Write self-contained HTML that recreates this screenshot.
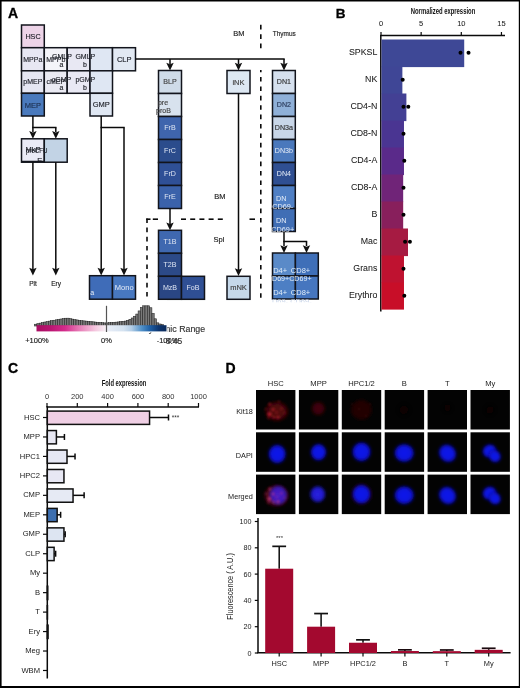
<!DOCTYPE html>
<html><head><meta charset="utf-8"><style>
html,body{margin:0;padding:0;background:#fff;overflow:hidden;width:520px;height:688px;}
svg{display:block;font-family:"Liberation Sans", sans-serif;will-change:transform;}
</style></head><body>
<svg width="520" height="688" viewBox="0 0 520 688">
<defs>
<linearGradient id="cbar" x1="0" x2="1" y1="0" y2="0">
<stop offset="0" stop-color="#a80d62"/>
<stop offset="0.1" stop-color="#b81470"/>
<stop offset="0.22" stop-color="#d42c8c"/>
<stop offset="0.33" stop-color="#e67cb6"/>
<stop offset="0.45" stop-color="#f4c6de"/>
<stop offset="0.53" stop-color="#f6eef4"/>
<stop offset="0.56" stop-color="#e6ecf6"/>
<stop offset="0.67" stop-color="#d4e2f0"/>
<stop offset="0.73" stop-color="#b4cee6"/>
<stop offset="0.81" stop-color="#5090c8"/>
<stop offset="0.87" stop-color="#2062a8"/>
<stop offset="0.94" stop-color="#0e3670"/>
<stop offset="1" stop-color="#0a2a5a"/>
</linearGradient>
<radialGradient id="red1"><stop offset="0" stop-color="#58080c"/><stop offset="0.6" stop-color="#4a070a"/><stop offset="0.85" stop-color="#280405"/><stop offset="1" stop-color="#100202" stop-opacity="0"/></radialGradient>
<radialGradient id="red1m"><stop offset="0" stop-color="#700e24"/><stop offset="0.7" stop-color="#5a0a1c"/><stop offset="1" stop-color="#100202" stop-opacity="0"/></radialGradient>
<radialGradient id="violet"><stop offset="0" stop-color="#4a22e0"/><stop offset="0.6" stop-color="#3a1cd8"/><stop offset="0.85" stop-color="#2a12a0"/><stop offset="1" stop-color="#100840" stop-opacity="0"/></radialGradient>
<radialGradient id="blue2"><stop offset="0" stop-color="#2a22e0"/><stop offset="0.6" stop-color="#221ad0"/><stop offset="0.85" stop-color="#14109a"/><stop offset="1" stop-color="#050540" stop-opacity="0"/></radialGradient>
<filter id="bl2" x="-100%" y="-100%" width="300%" height="300%"><feGaussianBlur stdDeviation="1.0"/></filter>
<radialGradient id="red2"><stop offset="0" stop-color="#46060a"/><stop offset="0.6" stop-color="#380508"/><stop offset="1" stop-color="#100202" stop-opacity="0"/></radialGradient>
<radialGradient id="red3"><stop offset="0" stop-color="#240606"/><stop offset="0.7" stop-color="#200505"/><stop offset="1" stop-color="#080202" stop-opacity="0"/></radialGradient>
<radialGradient id="red4"><stop offset="0" stop-color="#0e0303"/><stop offset="1" stop-color="#030303" stop-opacity="0"/></radialGradient>
<radialGradient id="blue"><stop offset="0" stop-color="#1216ec"/><stop offset="0.6" stop-color="#0e12de"/><stop offset="0.82" stop-color="#080ca8"/><stop offset="1" stop-color="#040440" stop-opacity="0"/></radialGradient>
<filter id="bl" x="-50%" y="-50%" width="200%" height="200%"><feGaussianBlur stdDeviation="1.5"/></filter>
</defs>
<rect x="0" y="0" width="520" height="688" fill="#fff"/>

<text x="8.00" y="17.60" font-size="14" fill="#000" text-anchor="start" font-weight="bold" stroke="#000" stroke-width="0.3">A</text>
<rect x="21.50" y="25.00" width="22.80" height="22.70" fill="#edd4e8" stroke="#12141c" stroke-width="1.5" />
<text x="33.00" y="38.80" font-size="7.2" fill="#1e2028" text-anchor="middle" font-weight="normal" stroke="#1e2028" stroke-width="0.15" >HSC</text>
<rect x="21.50" y="47.70" width="22.80" height="23.10" fill="#e7e7f3" stroke="#12141c" stroke-width="1.5" />
<rect x="44.30" y="47.70" width="22.90" height="23.10" fill="#f4f4f9" stroke="#12141c" stroke-width="1.5" />
<rect x="67.20" y="47.70" width="22.80" height="23.10" fill="#e8e8f3" stroke="#12141c" stroke-width="1.5" />
<rect x="90.00" y="47.70" width="22.50" height="23.10" fill="#dfe7f3" stroke="#12141c" stroke-width="1.5" />
<rect x="112.50" y="47.70" width="23.00" height="23.10" fill="#e2e9f3" stroke="#12141c" stroke-width="1.5" />
<rect x="21.50" y="70.80" width="22.80" height="22.50" fill="#e5e6f2" stroke="#12141c" stroke-width="1.5" />
<rect x="44.30" y="70.80" width="22.90" height="22.50" fill="#eaeaf3" stroke="#12141c" stroke-width="1.5" />
<rect x="67.20" y="70.80" width="22.80" height="22.50" fill="#e9e9f4" stroke="#12141c" stroke-width="1.5" />
<rect x="90.00" y="70.80" width="22.50" height="22.50" fill="#dfe7f3" stroke="#12141c" stroke-width="1.5" />
<rect x="21.50" y="93.30" width="22.80" height="22.70" fill="#4a7abd" stroke="#12141c" stroke-width="1.5" />
<rect x="90.00" y="93.30" width="22.50" height="22.70" fill="#dfe7f3" stroke="#12141c" stroke-width="1.5" />
<text x="32.80" y="61.50" font-size="7" fill="#1e2028" text-anchor="middle" font-weight="normal" stroke="#1e2028" stroke-width="0.15" >MPPa</text>
<text x="55.80" y="61.50" font-size="7" fill="#1e2028" text-anchor="middle" font-weight="normal" stroke="#1e2028" stroke-width="0.15" >MPPb</text>
<text x="62.00" y="58.80" font-size="7" fill="#1e2028" text-anchor="middle" font-weight="normal" stroke="#1e2028" stroke-width="0.15" >GMLP</text>
<text x="61.50" y="67.00" font-size="7" fill="#1e2028" text-anchor="middle" font-weight="normal" stroke="#1e2028" stroke-width="0.15" >a</text>
<text x="85.30" y="58.80" font-size="7" fill="#1e2028" text-anchor="middle" font-weight="normal" stroke="#1e2028" stroke-width="0.15" >GMLP</text>
<text x="84.90" y="67.00" font-size="7" fill="#1e2028" text-anchor="middle" font-weight="normal" stroke="#1e2028" stroke-width="0.15" >b</text>
<text x="124.20" y="61.50" font-size="7.5" fill="#1e2028" text-anchor="middle" font-weight="normal" stroke="#1e2028" stroke-width="0.15" >CLP</text>
<text x="32.80" y="83.80" font-size="7" fill="#1e2028" text-anchor="middle" font-weight="normal" stroke="#1e2028" stroke-width="0.15" >pMEP</text>
<text x="55.80" y="83.80" font-size="7" fill="#1e2028" text-anchor="middle" font-weight="normal" stroke="#1e2028" stroke-width="0.15" >cMEP</text>
<text x="61.50" y="82.10" font-size="7" fill="#1e2028" text-anchor="middle" font-weight="normal" stroke="#1e2028" stroke-width="0.15" >cGMP</text>
<text x="61.50" y="90.30" font-size="7" fill="#1e2028" text-anchor="middle" font-weight="normal" stroke="#1e2028" stroke-width="0.15" >a</text>
<text x="85.30" y="82.10" font-size="7" fill="#1e2028" text-anchor="middle" font-weight="normal" stroke="#1e2028" stroke-width="0.15" >pGMP</text>
<text x="84.90" y="90.30" font-size="7" fill="#1e2028" text-anchor="middle" font-weight="normal" stroke="#1e2028" stroke-width="0.15" >b</text>
<text x="32.80" y="107.50" font-size="7.5" fill="#1e3050" text-anchor="middle" font-weight="normal" stroke="#1e3050" stroke-width="0.15" >MEP</text>
<text x="101.30" y="107.00" font-size="7.5" fill="#1e2028" text-anchor="middle" font-weight="normal" stroke="#1e2028" stroke-width="0.15" >GMP</text>
<line x1="32.90" y1="116.00" x2="32.90" y2="132.00" stroke="#0a0a0a" stroke-width="1.5" />
<line x1="32.20" y1="127.50" x2="56.50" y2="127.50" stroke="#0a0a0a" stroke-width="1.5" />
<line x1="55.80" y1="127.50" x2="55.80" y2="132.00" stroke="#0a0a0a" stroke-width="1.5" />
<path d="M29.20,131.00 L32.90,132.50 L36.60,131.00 L32.90,138.80 Z" fill="#111"/>
<path d="M52.10,131.00 L55.80,132.50 L59.50,131.00 L55.80,138.80 Z" fill="#111"/>
<rect x="21.50" y="138.80" width="22.80" height="23.40" fill="#eaeaf5" stroke="#12141c" stroke-width="1.5" />
<rect x="44.30" y="138.80" width="22.90" height="23.40" fill="#c2d3e5" stroke="#12141c" stroke-width="1.5" />
<text x="33.00" y="151.80" font-size="7.5" fill="#1e2028" text-anchor="middle" font-weight="normal" stroke="#1e2028" stroke-width="0.15" >MkP</text>
<text x="26.00" y="153.20" font-size="7.5" fill="#1e2028" text-anchor="start" font-weight="normal" stroke="#1e2028" stroke-width="0.15" textLength="21.5" lengthAdjust="spacingAndGlyphs" >preCFU</text>
<text x="38.60" y="162.60" font-size="7.5" fill="#1e2028" text-anchor="middle" font-weight="normal" stroke="#1e2028" stroke-width="0.15" >-E</text>
<line x1="21.50" y1="161.50" x2="44.30" y2="161.50" stroke="#12141c" stroke-width="1.5" />
<line x1="32.90" y1="162.20" x2="32.90" y2="270.00" stroke="#0a0a0a" stroke-width="1.5" />
<path d="M29.20,267.70 L32.90,269.20 L36.60,267.70 L32.90,275.50 Z" fill="#111"/>
<line x1="55.80" y1="162.20" x2="55.80" y2="270.00" stroke="#0a0a0a" stroke-width="1.5" />
<path d="M52.10,267.70 L55.80,269.20 L59.50,267.70 L55.80,275.50 Z" fill="#111"/>
<text x="33.00" y="285.80" font-size="6.5" fill="#222" text-anchor="middle" font-weight="normal" stroke="#222" stroke-width="0.15" >Plt</text>
<text x="56.00" y="285.80" font-size="6.5" fill="#222" text-anchor="middle" font-weight="normal" stroke="#222" stroke-width="0.15" >Ery</text>
<line x1="101.20" y1="116.00" x2="101.20" y2="270.00" stroke="#0a0a0a" stroke-width="1.5" />
<path d="M97.50,267.70 L101.20,269.20 L104.90,267.70 L101.20,275.50 Z" fill="#111"/>
<line x1="100.50" y1="127.50" x2="124.70" y2="127.50" stroke="#0a0a0a" stroke-width="1.5" />
<line x1="124.00" y1="127.50" x2="124.00" y2="270.00" stroke="#0a0a0a" stroke-width="1.5" />
<path d="M120.30,267.70 L124.00,269.20 L127.70,267.70 L124.00,275.50 Z" fill="#111"/>
<rect x="89.50" y="275.70" width="23.00" height="23.50" fill="#3f6cb8" stroke="#12141c" stroke-width="1.5" />
<rect x="112.50" y="275.70" width="23.00" height="23.50" fill="#4878c0" stroke="#12141c" stroke-width="1.5" />
<text x="124.20" y="290.00" font-size="7.5" fill="#e8eef8" text-anchor="middle" font-weight="normal" >Mono</text>
<text x="90.20" y="295.30" font-size="7" fill="#e8eef8" text-anchor="start" font-weight="normal" >a</text>
<line x1="135.50" y1="59.00" x2="284.70" y2="59.00" stroke="#0a0a0a" stroke-width="1.5" />
<line x1="170.00" y1="59.00" x2="170.00" y2="64.00" stroke="#0a0a0a" stroke-width="1.5" />
<path d="M166.30,62.70 L170.00,64.20 L173.70,62.70 L170.00,70.50 Z" fill="#111"/>
<line x1="238.50" y1="59.00" x2="238.50" y2="64.00" stroke="#0a0a0a" stroke-width="1.5" />
<path d="M234.80,62.70 L238.50,64.20 L242.20,62.70 L238.50,70.50 Z" fill="#111"/>
<line x1="284.00" y1="59.00" x2="284.00" y2="64.00" stroke="#0a0a0a" stroke-width="1.5" />
<path d="M280.30,62.70 L284.00,64.20 L287.70,62.70 L284.00,70.50 Z" fill="#111"/>
<rect x="158.50" y="70.50" width="23.00" height="23.00" fill="#cfdbe8" stroke="#12141c" stroke-width="1.5" />
<text x="170.00" y="83.70" font-size="7.1" fill="#444" text-anchor="middle" font-weight="normal" stroke="#444" stroke-width="0.15" >BLP</text>
<rect x="158.50" y="93.50" width="23.00" height="23.00" fill="#d8e2ee" stroke="#12141c" stroke-width="1.5" />
<rect x="158.50" y="116.50" width="23.00" height="23.00" fill="#3f65ad" stroke="#12141c" stroke-width="1.5" />
<text x="170.00" y="129.70" font-size="7.1" fill="#dde4f2" text-anchor="middle" font-weight="normal" >FrB</text>
<rect x="158.50" y="139.50" width="23.00" height="23.00" fill="#2b4c8c" stroke="#12141c" stroke-width="1.5" />
<text x="170.00" y="152.70" font-size="7.1" fill="#dde4f2" text-anchor="middle" font-weight="normal" >FrC</text>
<rect x="158.50" y="162.50" width="23.00" height="23.00" fill="#2f5096" stroke="#12141c" stroke-width="1.5" />
<text x="170.00" y="175.70" font-size="7.1" fill="#dde4f2" text-anchor="middle" font-weight="normal" >FrD</text>
<rect x="158.50" y="185.50" width="23.00" height="23.00" fill="#3b62aa" stroke="#12141c" stroke-width="1.5" />
<text x="170.00" y="198.70" font-size="7.1" fill="#dde4f2" text-anchor="middle" font-weight="normal" >FrE</text>
<text x="163.00" y="104.50" font-size="7" fill="#444" text-anchor="middle" font-weight="normal" stroke="#444" stroke-width="0.15" >pre</text>
<text x="163.50" y="112.50" font-size="7" fill="#444" text-anchor="middle" font-weight="normal" stroke="#444" stroke-width="0.15" >proB</text>
<line x1="170.00" y1="208.50" x2="170.00" y2="224.00" stroke="#0a0a0a" stroke-width="1.5" />
<path d="M166.30,222.50 L170.00,224.00 L173.70,222.50 L170.00,230.30 Z" fill="#111"/>
<rect x="158.50" y="230.30" width="23.00" height="23.00" fill="#3f68b0" stroke="#12141c" stroke-width="1.5" />
<text x="170.00" y="244.30" font-size="7.1" fill="#dde4f2" text-anchor="middle" font-weight="normal" >T1B</text>
<rect x="158.50" y="253.30" width="23.00" height="23.00" fill="#2c4a88" stroke="#12141c" stroke-width="1.5" />
<text x="170.00" y="267.30" font-size="7.1" fill="#dde4f2" text-anchor="middle" font-weight="normal" >T2B</text>
<rect x="158.50" y="276.30" width="23.00" height="23.00" fill="#2a4684" stroke="#12141c" stroke-width="1.5" />
<text x="170.00" y="290.30" font-size="7.1" fill="#dde4f2" text-anchor="middle" font-weight="normal" >MzB</text>
<rect x="181.50" y="276.30" width="23.00" height="23.00" fill="#2f4f94" stroke="#12141c" stroke-width="1.5" />
<text x="193.00" y="290.20" font-size="7.1" fill="#dde4f2" text-anchor="middle" font-weight="normal" >FoB</text>
<rect x="227.00" y="70.50" width="23.00" height="23.00" fill="#dde8f3" stroke="#12141c" stroke-width="1.5" />
<text x="238.50" y="84.50" font-size="7.5" fill="#444" text-anchor="middle" font-weight="normal" stroke="#444" stroke-width="0.15" >iNK</text>
<line x1="238.50" y1="93.50" x2="238.50" y2="270.00" stroke="#0a0a0a" stroke-width="1.5" />
<path d="M234.80,268.20 L238.50,269.70 L242.20,268.20 L238.50,276.00 Z" fill="#111"/>
<rect x="227.00" y="276.30" width="23.00" height="23.00" fill="#c5d8ea" stroke="#12141c" stroke-width="1.5" />
<text x="238.50" y="290.20" font-size="7.5" fill="#444" text-anchor="middle" font-weight="normal" stroke="#444" stroke-width="0.15" >mNK</text>
<rect x="272.50" y="70.50" width="22.80" height="23.00" fill="#d5e0ee" stroke="#12141c" stroke-width="1.5" />
<text x="283.90" y="83.80" font-size="7.1" fill="#333" text-anchor="middle" font-weight="normal" stroke="#333" stroke-width="0.15" >DN1</text>
<rect x="272.50" y="93.50" width="22.80" height="23.00" fill="#8fb0d8" stroke="#12141c" stroke-width="1.5" />
<text x="283.90" y="106.80" font-size="7.1" fill="#2a3a5a" text-anchor="middle" font-weight="normal" stroke="#2a3a5a" stroke-width="0.15" >DN2</text>
<rect x="272.50" y="116.50" width="22.80" height="23.00" fill="#c8d6e8" stroke="#12141c" stroke-width="1.5" />
<text x="283.90" y="129.80" font-size="7.1" fill="#333" text-anchor="middle" font-weight="normal" stroke="#333" stroke-width="0.15" >DN3a</text>
<rect x="272.50" y="139.50" width="22.80" height="23.00" fill="#4a78bc" stroke="#12141c" stroke-width="1.5" />
<text x="283.90" y="152.80" font-size="7.1" fill="#e8eef8" text-anchor="middle" font-weight="normal" >DN3b</text>
<rect x="272.50" y="162.50" width="22.80" height="23.00" fill="#2f4f92" stroke="#12141c" stroke-width="1.5" />
<text x="283.90" y="175.80" font-size="7.1" fill="#e8eef8" text-anchor="middle" font-weight="normal" >DN4</text>
<rect x="272.50" y="185.50" width="22.80" height="23.00" fill="#4f7fc4" stroke="#12141c" stroke-width="1.5" />
<rect x="272.50" y="208.50" width="22.80" height="23.00" fill="#406eb5" stroke="#12141c" stroke-width="1.5" />
<text x="281.30" y="200.50" font-size="7.2" fill="#e6eef9" text-anchor="middle" font-weight="normal" >DN</text>
<text x="282.70" y="209.40" font-size="7.3" fill="#e6eef9" text-anchor="middle" font-weight="normal" >CD69-</text>
<text x="281.30" y="223.00" font-size="7.2" fill="#e6eef9" text-anchor="middle" font-weight="normal" >DN</text>
<text x="282.70" y="232.00" font-size="7.3" fill="#e6eef9" text-anchor="middle" font-weight="normal" >CD69+</text>
<line x1="284.00" y1="231.50" x2="284.00" y2="246.00" stroke="#0a0a0a" stroke-width="1.5" />
<line x1="283.30" y1="241.50" x2="307.20" y2="241.50" stroke="#0a0a0a" stroke-width="1.5" />
<line x1="306.50" y1="241.50" x2="306.50" y2="246.00" stroke="#0a0a0a" stroke-width="1.5" />
<path d="M280.30,245.20 L284.00,246.70 L287.70,245.20 L284.00,253.00 Z" fill="#111"/>
<path d="M302.80,245.20 L306.50,246.70 L310.20,245.20 L306.50,253.00 Z" fill="#111"/>
<rect x="272.50" y="253.00" width="22.90" height="23.00" fill="#5a8ac8" stroke="#12141c" stroke-width="1.5" />
<rect x="295.40" y="253.00" width="22.90" height="23.00" fill="#3f6fb8" stroke="#12141c" stroke-width="1.5" />
<rect x="272.50" y="276.00" width="22.90" height="23.00" fill="#4d7fc4" stroke="#12141c" stroke-width="1.5" />
<rect x="295.40" y="276.00" width="22.90" height="23.00" fill="#4676bf" stroke="#12141c" stroke-width="1.5" />
<text x="273.20" y="273.00" font-size="7.5" fill="#e2eef9" text-anchor="start" font-weight="normal" >D4+</text>
<text x="290.80" y="273.00" font-size="7.5" fill="#e2eef9" text-anchor="start" font-weight="normal" >CD8+</text>
<text x="273.20" y="295.00" font-size="7.5" fill="#e2eef9" text-anchor="start" font-weight="normal" >D4+</text>
<text x="290.80" y="295.00" font-size="7.5" fill="#e2eef9" text-anchor="start" font-weight="normal" >CD8+</text>
<text x="272.00" y="281.30" font-size="7.5" fill="#e2eef9" text-anchor="start" font-weight="normal" textLength="39.6" lengthAdjust="spacingAndGlyphs" >D69+CD69+</text>
<clipPath id="c4"><rect x="260" y="299" width="80" height="3.2"/></clipPath>
<g clip-path="url(#c4)">
<text x="272.00" y="303.60" font-size="7.5" fill="#c8d4e8" text-anchor="start" font-weight="normal" textLength="39.6" lengthAdjust="spacingAndGlyphs" >D69- CD69-</text>
</g>
<text x="238.80" y="35.80" font-size="7.5" fill="#222" text-anchor="middle" font-weight="normal" stroke="#222" stroke-width="0.15" >BM</text>
<text x="284.30" y="35.80" font-size="7.5" fill="#222" text-anchor="middle" font-weight="normal" stroke="#222" stroke-width="0.15" textLength="23" lengthAdjust="spacingAndGlyphs" >Thymus</text>
<text x="219.80" y="199.20" font-size="7.5" fill="#222" text-anchor="middle" font-weight="normal" stroke="#222" stroke-width="0.15" >BM</text>
<text x="219.00" y="242.00" font-size="7.5" fill="#222" text-anchor="middle" font-weight="normal" stroke="#222" stroke-width="0.15" >Spl</text>
<line x1="260.80" y1="24.80" x2="260.80" y2="49.00" stroke="#0a0a0a" stroke-width="1.6" stroke-dasharray="4.7,4.7"/>
<line x1="260.80" y1="70.00" x2="260.80" y2="301.00" stroke="#0a0a0a" stroke-width="1.6" stroke-dasharray="4.6,4.8" stroke-dashoffset="2.4"/>
<line x1="146.20" y1="219.20" x2="150.50" y2="219.20" stroke="#0a0a0a" stroke-width="1.6" />
<line x1="152.80" y1="219.20" x2="158.00" y2="219.20" stroke="#0a0a0a" stroke-width="1.6" />
<line x1="181.00" y1="219.20" x2="186.00" y2="219.20" stroke="#0a0a0a" stroke-width="1.6" />
<line x1="190.20" y1="219.20" x2="195.20" y2="219.20" stroke="#0a0a0a" stroke-width="1.6" />
<line x1="199.40" y1="219.20" x2="204.40" y2="219.20" stroke="#0a0a0a" stroke-width="1.6" />
<line x1="208.60" y1="219.20" x2="213.60" y2="219.20" stroke="#0a0a0a" stroke-width="1.6" />
<line x1="217.80" y1="219.20" x2="222.80" y2="219.20" stroke="#0a0a0a" stroke-width="1.6" />
<line x1="249.50" y1="219.20" x2="255.00" y2="219.20" stroke="#0a0a0a" stroke-width="1.6" />
<line x1="147.00" y1="218.40" x2="147.00" y2="301.00" stroke="#0a0a0a" stroke-width="1.6" stroke-dasharray="4.6,4.6"/>
<text x="142.50" y="332.40" font-size="8.8" fill="#333" text-anchor="start" font-weight="normal" stroke="#333" stroke-width="0.15" >Dynamic Range</text>
<rect x="30.00" y="300.50" width="137.00" height="31.90" fill="#fff" />
<rect x="34.60" y="324.22" width="2.3" height="1.78" fill="#7a7a7a" stroke="#222" stroke-width="0.55"/>
<rect x="36.90" y="323.67" width="2.3" height="2.33" fill="#7a7a7a" stroke="#222" stroke-width="0.55"/>
<rect x="39.20" y="323.12" width="2.3" height="2.88" fill="#7a7a7a" stroke="#222" stroke-width="0.55"/>
<rect x="41.50" y="322.56" width="2.3" height="3.44" fill="#7a7a7a" stroke="#222" stroke-width="0.55"/>
<rect x="43.80" y="322.01" width="2.3" height="3.99" fill="#7a7a7a" stroke="#222" stroke-width="0.55"/>
<rect x="46.10" y="321.57" width="2.3" height="4.43" fill="#7a7a7a" stroke="#222" stroke-width="0.55"/>
<rect x="48.40" y="321.12" width="2.3" height="4.88" fill="#7a7a7a" stroke="#222" stroke-width="0.55"/>
<rect x="50.70" y="320.68" width="2.3" height="5.32" fill="#7a7a7a" stroke="#222" stroke-width="0.55"/>
<rect x="53.00" y="320.24" width="2.3" height="5.76" fill="#7a7a7a" stroke="#222" stroke-width="0.55"/>
<rect x="55.30" y="319.80" width="2.3" height="6.20" fill="#7a7a7a" stroke="#222" stroke-width="0.55"/>
<rect x="57.60" y="319.38" width="2.3" height="6.62" fill="#7a7a7a" stroke="#222" stroke-width="0.55"/>
<rect x="59.90" y="318.99" width="2.3" height="7.01" fill="#7a7a7a" stroke="#222" stroke-width="0.55"/>
<rect x="62.20" y="318.61" width="2.3" height="7.39" fill="#7a7a7a" stroke="#222" stroke-width="0.55"/>
<rect x="64.50" y="318.23" width="2.3" height="7.77" fill="#7a7a7a" stroke="#222" stroke-width="0.55"/>
<rect x="66.80" y="318.18" width="2.3" height="7.82" fill="#7a7a7a" stroke="#222" stroke-width="0.55"/>
<rect x="69.10" y="318.62" width="2.3" height="7.38" fill="#7a7a7a" stroke="#222" stroke-width="0.55"/>
<rect x="71.40" y="319.07" width="2.3" height="6.93" fill="#7a7a7a" stroke="#222" stroke-width="0.55"/>
<rect x="73.70" y="319.51" width="2.3" height="6.49" fill="#7a7a7a" stroke="#222" stroke-width="0.55"/>
<rect x="76.00" y="319.95" width="2.3" height="6.05" fill="#7a7a7a" stroke="#222" stroke-width="0.55"/>
<rect x="78.30" y="320.39" width="2.3" height="5.61" fill="#7a7a7a" stroke="#222" stroke-width="0.55"/>
<rect x="80.60" y="320.68" width="2.3" height="5.32" fill="#7a7a7a" stroke="#222" stroke-width="0.55"/>
<rect x="82.90" y="320.90" width="2.3" height="5.10" fill="#7a7a7a" stroke="#222" stroke-width="0.55"/>
<rect x="85.20" y="321.13" width="2.3" height="4.87" fill="#7a7a7a" stroke="#222" stroke-width="0.55"/>
<rect x="87.50" y="321.37" width="2.3" height="4.63" fill="#7a7a7a" stroke="#222" stroke-width="0.55"/>
<rect x="89.80" y="321.59" width="2.3" height="4.41" fill="#7a7a7a" stroke="#222" stroke-width="0.55"/>
<rect x="92.10" y="321.82" width="2.3" height="4.18" fill="#7a7a7a" stroke="#222" stroke-width="0.55"/>
<rect x="94.40" y="322.05" width="2.3" height="3.95" fill="#7a7a7a" stroke="#222" stroke-width="0.55"/>
<rect x="96.70" y="322.26" width="2.3" height="3.74" fill="#7a7a7a" stroke="#222" stroke-width="0.55"/>
<rect x="99.00" y="322.47" width="2.3" height="3.53" fill="#7a7a7a" stroke="#222" stroke-width="0.55"/>
<rect x="101.30" y="322.68" width="2.3" height="3.32" fill="#7a7a7a" stroke="#222" stroke-width="0.55"/>
<rect x="103.60" y="322.89" width="2.3" height="3.11" fill="#7a7a7a" stroke="#222" stroke-width="0.55"/>
<rect x="105.90" y="322.91" width="2.3" height="3.09" fill="#7a7a7a" stroke="#222" stroke-width="0.55"/>
<rect x="108.20" y="322.72" width="2.3" height="3.28" fill="#7a7a7a" stroke="#222" stroke-width="0.55"/>
<rect x="110.50" y="322.53" width="2.3" height="3.47" fill="#7a7a7a" stroke="#222" stroke-width="0.55"/>
<rect x="112.80" y="322.34" width="2.3" height="3.66" fill="#7a7a7a" stroke="#222" stroke-width="0.55"/>
<rect x="115.10" y="322.15" width="2.3" height="3.85" fill="#7a7a7a" stroke="#222" stroke-width="0.55"/>
<rect x="117.40" y="321.93" width="2.3" height="4.07" fill="#7a7a7a" stroke="#222" stroke-width="0.55"/>
<rect x="119.70" y="321.64" width="2.3" height="4.36" fill="#7a7a7a" stroke="#222" stroke-width="0.55"/>
<rect x="122.00" y="321.36" width="2.3" height="4.64" fill="#7a7a7a" stroke="#222" stroke-width="0.55"/>
<rect x="124.30" y="321.07" width="2.3" height="4.93" fill="#7a7a7a" stroke="#222" stroke-width="0.55"/>
<rect x="126.60" y="320.30" width="2.3" height="5.70" fill="#7a7a7a" stroke="#222" stroke-width="0.55"/>
<rect x="128.90" y="319.38" width="2.3" height="6.62" fill="#7a7a7a" stroke="#222" stroke-width="0.55"/>
<rect x="131.20" y="317.99" width="2.3" height="8.01" fill="#7a7a7a" stroke="#222" stroke-width="0.55"/>
<rect x="133.50" y="316.26" width="2.3" height="9.74" fill="#7a7a7a" stroke="#222" stroke-width="0.55"/>
<rect x="135.80" y="314.05" width="2.3" height="11.95" fill="#7a7a7a" stroke="#222" stroke-width="0.55"/>
<rect x="138.10" y="310.92" width="2.3" height="15.08" fill="#7a7a7a" stroke="#222" stroke-width="0.55"/>
<rect x="140.40" y="307.40" width="2.3" height="18.60" fill="#7a7a7a" stroke="#222" stroke-width="0.55"/>
<rect x="142.70" y="305.80" width="2.3" height="20.20" fill="#7a7a7a" stroke="#222" stroke-width="0.55"/>
<rect x="145.00" y="305.80" width="2.3" height="20.20" fill="#7a7a7a" stroke="#222" stroke-width="0.55"/>
<rect x="147.30" y="305.80" width="2.3" height="20.20" fill="#7a7a7a" stroke="#222" stroke-width="0.55"/>
<rect x="149.60" y="307.75" width="2.3" height="18.25" fill="#7a7a7a" stroke="#222" stroke-width="0.55"/>
<rect x="151.90" y="313.45" width="2.3" height="12.55" fill="#7a7a7a" stroke="#222" stroke-width="0.55"/>
<rect x="154.20" y="318.79" width="2.3" height="7.21" fill="#7a7a7a" stroke="#222" stroke-width="0.55"/>
<rect x="156.50" y="322.83" width="2.3" height="3.17" fill="#7a7a7a" stroke="#222" stroke-width="0.55"/>
<rect x="158.80" y="323.98" width="2.3" height="2.02" fill="#7a7a7a" stroke="#222" stroke-width="0.55"/>
<rect x="161.10" y="324.56" width="2.3" height="1.44" fill="#7a7a7a" stroke="#222" stroke-width="0.55"/>
<rect x="36.50" y="325.20" width="130.00" height="6.20" fill="url(#cbar)" />
<line x1="106.50" y1="305.80" x2="106.50" y2="332.00" stroke="#555" stroke-width="1.2" />
<text x="37.00" y="343.00" font-size="7.5" fill="#222" text-anchor="middle" font-weight="normal" stroke="#222" stroke-width="0.15" >+100%</text>
<text x="106.50" y="343.00" font-size="7.5" fill="#222" text-anchor="middle" font-weight="normal" stroke="#222" stroke-width="0.15" >0%</text>
<text x="167.50" y="343.00" font-size="7.5" fill="#222" text-anchor="middle" font-weight="normal" stroke="#222" stroke-width="0.15" >-100%</text>
<text x="174.00" y="343.50" font-size="8.5" fill="#333" text-anchor="middle" font-weight="normal" stroke="#333" stroke-width="0.15" >8.45</text>
<text x="335.80" y="17.70" font-size="13.5" fill="#000" text-anchor="start" font-weight="bold" stroke="#000" stroke-width="0.3">B</text>
<text x="443.00" y="14.40" font-size="9" fill="#111" text-anchor="middle" font-weight="bold" textLength="64.5" lengthAdjust="spacingAndGlyphs" >Normalized expression</text>
<text x="381.00" y="26.20" font-size="7.5" fill="#222" text-anchor="middle" font-weight="normal" stroke="#222" stroke-width="0.05" >0</text>
<line x1="381.00" y1="32.00" x2="381.00" y2="36.00" stroke="#0a0a0a" stroke-width="1.2" />
<text x="421.15" y="26.20" font-size="7.5" fill="#222" text-anchor="middle" font-weight="normal" stroke="#222" stroke-width="0.05" >5</text>
<line x1="421.15" y1="32.00" x2="421.15" y2="36.00" stroke="#0a0a0a" stroke-width="1.2" />
<text x="461.30" y="26.20" font-size="7.5" fill="#222" text-anchor="middle" font-weight="normal" stroke="#222" stroke-width="0.05" >10</text>
<line x1="461.30" y1="32.00" x2="461.30" y2="36.00" stroke="#0a0a0a" stroke-width="1.2" />
<text x="501.45" y="26.20" font-size="7.5" fill="#222" text-anchor="middle" font-weight="normal" stroke="#222" stroke-width="0.05" >15</text>
<line x1="501.45" y1="32.00" x2="501.45" y2="36.00" stroke="#0a0a0a" stroke-width="1.2" />
<line x1="380.50" y1="35.60" x2="505.00" y2="35.60" stroke="#0a0a0a" stroke-width="1.5" />
<line x1="380.80" y1="35.00" x2="380.80" y2="311.50" stroke="#0a0a0a" stroke-width="1.5" />
<rect x="381.50" y="39.50" width="82.71" height="27.60" fill="#3e4896" />
<text x="377.30" y="55.40" font-size="8.8" fill="#1a1a1a" text-anchor="end" font-weight="normal" stroke="#1a1a1a" stroke-width="0.05" >SPKSL</text>
<circle cx="460.50" cy="52.80" r="2" fill="#000"/>
<circle cx="468.53" cy="52.80" r="2" fill="#000"/>
<rect x="381.50" y="66.50" width="20.88" height="27.60" fill="#3f4696" />
<text x="377.30" y="82.40" font-size="8.8" fill="#1a1a1a" text-anchor="end" font-weight="normal" stroke="#1a1a1a" stroke-width="0.05" >NK</text>
<circle cx="402.68" cy="79.80" r="2" fill="#000"/>
<rect x="381.50" y="93.50" width="24.89" height="27.60" fill="#434094" />
<text x="377.30" y="109.40" font-size="8.8" fill="#1a1a1a" text-anchor="end" font-weight="normal" stroke="#1a1a1a" stroke-width="0.05" >CD4-N</text>
<circle cx="403.48" cy="106.80" r="2" fill="#000"/>
<circle cx="408.30" cy="106.80" r="2" fill="#000"/>
<rect x="381.50" y="120.50" width="22.48" height="27.60" fill="#4a3592" />
<text x="377.30" y="136.40" font-size="8.8" fill="#1a1a1a" text-anchor="end" font-weight="normal" stroke="#1a1a1a" stroke-width="0.05" >CD8-N</text>
<circle cx="403.48" cy="133.80" r="2" fill="#000"/>
<rect x="381.50" y="147.50" width="22.48" height="27.60" fill="#5a2a8a" />
<text x="377.30" y="163.40" font-size="8.8" fill="#1a1a1a" text-anchor="end" font-weight="normal" stroke="#1a1a1a" stroke-width="0.05" >CD4-A</text>
<circle cx="404.29" cy="160.80" r="2" fill="#000"/>
<rect x="381.50" y="174.50" width="21.68" height="27.60" fill="#702478" />
<text x="377.30" y="190.40" font-size="8.8" fill="#1a1a1a" text-anchor="end" font-weight="normal" stroke="#1a1a1a" stroke-width="0.05" >CD8-A</text>
<circle cx="403.48" cy="187.80" r="2" fill="#000"/>
<rect x="381.50" y="201.50" width="21.68" height="27.60" fill="#881f5c" />
<text x="377.30" y="217.40" font-size="8.8" fill="#1a1a1a" text-anchor="end" font-weight="normal" stroke="#1a1a1a" stroke-width="0.05" >B</text>
<circle cx="403.48" cy="214.80" r="2" fill="#000"/>
<rect x="381.50" y="228.50" width="26.50" height="27.60" fill="#a61b42" />
<text x="377.30" y="244.40" font-size="8.8" fill="#1a1a1a" text-anchor="end" font-weight="normal" stroke="#1a1a1a" stroke-width="0.05" >Mac</text>
<circle cx="405.09" cy="241.80" r="2" fill="#000"/>
<circle cx="409.91" cy="241.80" r="2" fill="#000"/>
<rect x="381.50" y="255.50" width="22.48" height="27.60" fill="#bf1230" />
<text x="377.30" y="271.40" font-size="8.8" fill="#1a1a1a" text-anchor="end" font-weight="normal" stroke="#1a1a1a" stroke-width="0.05" >Grans</text>
<circle cx="403.48" cy="268.80" r="2" fill="#000"/>
<rect x="381.50" y="282.50" width="22.48" height="27.10" fill="#c80e28" />
<text x="377.30" y="298.40" font-size="8.8" fill="#1a1a1a" text-anchor="end" font-weight="normal" stroke="#1a1a1a" stroke-width="0.05" >Erythro</text>
<circle cx="404.29" cy="295.80" r="2" fill="#000"/>
<text x="8.00" y="372.70" font-size="14" fill="#000" text-anchor="start" font-weight="bold" stroke="#000" stroke-width="0.3">C</text>
<text x="124.00" y="386.00" font-size="9" fill="#111" text-anchor="middle" font-weight="bold" textLength="44.5" lengthAdjust="spacingAndGlyphs" >Fold expression</text>
<text x="47.00" y="399.00" font-size="7.5" fill="#333" text-anchor="middle" font-weight="normal" >0</text>
<line x1="47.00" y1="403.00" x2="47.00" y2="407.00" stroke="#0a0a0a" stroke-width="1.2" />
<text x="77.30" y="399.00" font-size="7.5" fill="#333" text-anchor="middle" font-weight="normal" >200</text>
<line x1="77.30" y1="403.00" x2="77.30" y2="407.00" stroke="#0a0a0a" stroke-width="1.2" />
<text x="107.60" y="399.00" font-size="7.5" fill="#333" text-anchor="middle" font-weight="normal" >400</text>
<line x1="107.60" y1="403.00" x2="107.60" y2="407.00" stroke="#0a0a0a" stroke-width="1.2" />
<text x="137.90" y="399.00" font-size="7.5" fill="#333" text-anchor="middle" font-weight="normal" >600</text>
<line x1="137.90" y1="403.00" x2="137.90" y2="407.00" stroke="#0a0a0a" stroke-width="1.2" />
<text x="168.20" y="399.00" font-size="7.5" fill="#333" text-anchor="middle" font-weight="normal" >800</text>
<line x1="168.20" y1="403.00" x2="168.20" y2="407.00" stroke="#0a0a0a" stroke-width="1.2" />
<text x="198.50" y="399.00" font-size="7.5" fill="#333" text-anchor="middle" font-weight="normal" >1000</text>
<line x1="198.50" y1="403.00" x2="198.50" y2="407.00" stroke="#0a0a0a" stroke-width="1.2" />
<line x1="46.50" y1="407.00" x2="199.00" y2="407.00" stroke="#0a0a0a" stroke-width="1.5" />
<line x1="47.30" y1="406.30" x2="47.30" y2="678.50" stroke="#0a0a0a" stroke-width="1.5" />
<text x="40.00" y="419.60" font-size="7.6" fill="#1a1a1a" text-anchor="end" font-weight="normal" >HSC</text>
<line x1="43.00" y1="417.50" x2="47.00" y2="417.50" stroke="#0a0a0a" stroke-width="1.2" />
<line x1="149.26" y1="417.50" x2="168.50" y2="417.50" stroke="#0a0a0a" stroke-width="1.5" />
<line x1="168.50" y1="414.50" x2="168.50" y2="420.50" stroke="#0a0a0a" stroke-width="1.5" />
<rect x="47.30" y="411.10" width="102.26" height="13.30" fill="#efcfe4" stroke="#111" stroke-width="1.5" />
<text x="40.00" y="439.06" font-size="7.6" fill="#1a1a1a" text-anchor="end" font-weight="normal" >MPP</text>
<line x1="43.00" y1="436.96" x2="47.00" y2="436.96" stroke="#0a0a0a" stroke-width="1.2" />
<line x1="56.09" y1="436.96" x2="64.42" y2="436.96" stroke="#0a0a0a" stroke-width="1.5" />
<line x1="64.42" y1="433.96" x2="64.42" y2="439.96" stroke="#0a0a0a" stroke-width="1.5" />
<rect x="47.30" y="430.56" width="9.09" height="13.30" fill="#e8e8f3" stroke="#111" stroke-width="1.5" />
<text x="40.00" y="458.52" font-size="7.6" fill="#1a1a1a" text-anchor="end" font-weight="normal" >HPC1</text>
<line x1="43.00" y1="456.42" x2="47.00" y2="456.42" stroke="#0a0a0a" stroke-width="1.2" />
<line x1="66.69" y1="456.42" x2="75.03" y2="456.42" stroke="#0a0a0a" stroke-width="1.5" />
<line x1="75.03" y1="453.42" x2="75.03" y2="459.42" stroke="#0a0a0a" stroke-width="1.5" />
<rect x="47.30" y="450.02" width="19.70" height="13.30" fill="#e6e8f4" stroke="#111" stroke-width="1.5" />
<text x="40.00" y="477.98" font-size="7.6" fill="#1a1a1a" text-anchor="end" font-weight="normal" >HPC2</text>
<line x1="43.00" y1="475.88" x2="47.00" y2="475.88" stroke="#0a0a0a" stroke-width="1.2" />
<rect x="47.30" y="469.48" width="16.66" height="13.30" fill="#e8e8f4" stroke="#111" stroke-width="1.5" />
<text x="40.00" y="497.44" font-size="7.6" fill="#1a1a1a" text-anchor="end" font-weight="normal" >CMP</text>
<line x1="43.00" y1="495.34" x2="47.00" y2="495.34" stroke="#0a0a0a" stroke-width="1.2" />
<line x1="72.75" y1="495.34" x2="84.12" y2="495.34" stroke="#0a0a0a" stroke-width="1.5" />
<line x1="84.12" y1="492.34" x2="84.12" y2="498.34" stroke="#0a0a0a" stroke-width="1.5" />
<rect x="47.30" y="488.94" width="25.75" height="13.30" fill="#e6eaf4" stroke="#111" stroke-width="1.5" />
<text x="40.00" y="516.90" font-size="7.6" fill="#1a1a1a" text-anchor="end" font-weight="normal" >MEP</text>
<line x1="43.00" y1="514.80" x2="47.00" y2="514.80" stroke="#0a0a0a" stroke-width="1.2" />
<line x1="56.85" y1="514.80" x2="60.63" y2="514.80" stroke="#0a0a0a" stroke-width="1.5" />
<line x1="60.63" y1="511.80" x2="60.63" y2="517.80" stroke="#0a0a0a" stroke-width="1.5" />
<rect x="47.30" y="508.40" width="9.85" height="13.30" fill="#3d6fb0" stroke="#111" stroke-width="1.5" />
<text x="40.00" y="536.36" font-size="7.6" fill="#1a1a1a" text-anchor="end" font-weight="normal" >GMP</text>
<line x1="43.00" y1="534.26" x2="47.00" y2="534.26" stroke="#0a0a0a" stroke-width="1.2" />
<line x1="63.66" y1="534.26" x2="65.18" y2="534.26" stroke="#0a0a0a" stroke-width="1.5" />
<line x1="65.18" y1="531.26" x2="65.18" y2="537.26" stroke="#0a0a0a" stroke-width="1.5" />
<rect x="47.30" y="527.86" width="16.66" height="13.30" fill="#dde5f2" stroke="#111" stroke-width="1.5" />
<text x="40.00" y="555.82" font-size="7.6" fill="#1a1a1a" text-anchor="end" font-weight="normal" >CLP</text>
<line x1="43.00" y1="553.72" x2="47.00" y2="553.72" stroke="#0a0a0a" stroke-width="1.2" />
<line x1="53.82" y1="553.72" x2="55.64" y2="553.72" stroke="#0a0a0a" stroke-width="1.5" />
<line x1="55.64" y1="550.72" x2="55.64" y2="556.72" stroke="#0a0a0a" stroke-width="1.5" />
<rect x="47.30" y="547.32" width="6.82" height="13.30" fill="#e2e8f2" stroke="#111" stroke-width="1.5" />
<text x="40.00" y="575.28" font-size="7.6" fill="#1a1a1a" text-anchor="end" font-weight="normal" >My</text>
<line x1="43.00" y1="573.18" x2="47.00" y2="573.18" stroke="#0a0a0a" stroke-width="1.2" />
<text x="40.00" y="594.74" font-size="7.6" fill="#1a1a1a" text-anchor="end" font-weight="normal" >B</text>
<line x1="43.00" y1="592.64" x2="47.00" y2="592.64" stroke="#0a0a0a" stroke-width="1.2" />
<rect x="47.30" y="586.24" width="0.45" height="13.30" fill="#333" stroke="#111" stroke-width="1.5" />
<text x="40.00" y="614.20" font-size="7.6" fill="#1a1a1a" text-anchor="end" font-weight="normal" >T</text>
<line x1="43.00" y1="612.10" x2="47.00" y2="612.10" stroke="#0a0a0a" stroke-width="1.2" />
<rect x="47.30" y="605.70" width="0.15" height="13.30" fill="#333" stroke="#111" stroke-width="1.5" />
<text x="40.00" y="633.66" font-size="7.6" fill="#1a1a1a" text-anchor="end" font-weight="normal" >Ery</text>
<line x1="43.00" y1="631.56" x2="47.00" y2="631.56" stroke="#0a0a0a" stroke-width="1.2" />
<rect x="47.30" y="625.16" width="0.76" height="13.30" fill="#555" stroke="#111" stroke-width="1.5" />
<text x="40.00" y="653.12" font-size="7.6" fill="#1a1a1a" text-anchor="end" font-weight="normal" >Meg</text>
<line x1="43.00" y1="651.02" x2="47.00" y2="651.02" stroke="#0a0a0a" stroke-width="1.2" />
<text x="40.00" y="672.58" font-size="7.6" fill="#1a1a1a" text-anchor="end" font-weight="normal" >WBM</text>
<line x1="43.00" y1="670.48" x2="47.00" y2="670.48" stroke="#0a0a0a" stroke-width="1.2" />
<text x="175.50" y="419.80" font-size="6.5" fill="#333" text-anchor="middle" font-weight="normal" >***</text>
<text x="225.50" y="373.00" font-size="14" fill="#000" text-anchor="start" font-weight="bold" stroke="#000" stroke-width="0.3">D</text>
<text x="275.70" y="385.50" font-size="7.6" fill="#1a1a1a" text-anchor="middle" font-weight="normal" >HSC</text>
<text x="318.60" y="385.50" font-size="7.6" fill="#1a1a1a" text-anchor="middle" font-weight="normal" >MPP</text>
<text x="361.50" y="385.50" font-size="7.6" fill="#1a1a1a" text-anchor="middle" font-weight="normal" >HPC1/2</text>
<text x="404.40" y="385.50" font-size="7.6" fill="#1a1a1a" text-anchor="middle" font-weight="normal" >B</text>
<text x="447.30" y="385.50" font-size="7.6" fill="#1a1a1a" text-anchor="middle" font-weight="normal" >T</text>
<text x="490.20" y="385.50" font-size="7.6" fill="#1a1a1a" text-anchor="middle" font-weight="normal" >My</text>
<text x="252.80" y="414.10" font-size="7.3" fill="#1a1a1a" text-anchor="end" font-weight="normal" >Kit18</text>
<text x="252.80" y="457.50" font-size="7.3" fill="#1a1a1a" text-anchor="end" font-weight="normal" >DAPI</text>
<text x="252.80" y="498.60" font-size="7.3" fill="#1a1a1a" text-anchor="end" font-weight="normal" >Merged</text>
<rect x="256.00" y="390.00" width="39.40" height="39.50" fill="#030303" />
<rect x="256.00" y="432.30" width="39.40" height="39.50" fill="#030303" />
<rect x="256.00" y="474.60" width="39.40" height="39.50" fill="#030303" />
<rect x="298.90" y="390.00" width="39.40" height="39.50" fill="#030303" />
<rect x="298.90" y="432.30" width="39.40" height="39.50" fill="#030303" />
<rect x="298.90" y="474.60" width="39.40" height="39.50" fill="#030303" />
<rect x="341.80" y="390.00" width="39.40" height="39.50" fill="#030303" />
<rect x="341.80" y="432.30" width="39.40" height="39.50" fill="#030303" />
<rect x="341.80" y="474.60" width="39.40" height="39.50" fill="#030303" />
<rect x="384.70" y="390.00" width="39.40" height="39.50" fill="#030303" />
<rect x="384.70" y="432.30" width="39.40" height="39.50" fill="#030303" />
<rect x="384.70" y="474.60" width="39.40" height="39.50" fill="#030303" />
<rect x="427.60" y="390.00" width="39.40" height="39.50" fill="#030303" />
<rect x="427.60" y="432.30" width="39.40" height="39.50" fill="#030303" />
<rect x="427.60" y="474.60" width="39.40" height="39.50" fill="#030303" />
<rect x="470.50" y="390.00" width="39.40" height="39.50" fill="#030303" />
<rect x="470.50" y="432.30" width="39.40" height="39.50" fill="#030303" />
<rect x="470.50" y="474.60" width="39.40" height="39.50" fill="#030303" />
<line x1="276.5" y1="393" x2="276.5" y2="401" stroke="#3a0a0a" stroke-width="1.5" filter="url(#bl)"/>
<ellipse cx="276.80" cy="411.30" rx="12.80" ry="10.80" fill="url(#red1)" filter="url(#bl)"/>
<ellipse cx="318.30" cy="408.50" rx="8.50" ry="8.50" fill="url(#red2)" filter="url(#bl)"/>
<ellipse cx="361.40" cy="409.80" rx="12.50" ry="12.00" fill="url(#red3)" filter="url(#bl)"/>
<ellipse cx="404.00" cy="410.00" rx="11.00" ry="11.00" fill="url(#red4)" filter="url(#bl)"/>
<ellipse cx="447.50" cy="408.00" rx="9.00" ry="9.00" fill="url(#red4)" filter="url(#bl)"/>
<ellipse cx="490.00" cy="410.00" rx="10.00" ry="10.00" fill="url(#red4)" filter="url(#bl)"/>
<circle cx="269.8" cy="404.2" r="1.6" fill="#c0202e" opacity="0.55" filter="url(#bl2)"/>
<circle cx="273.1" cy="409.4" r="1.7" fill="#c0202e" opacity="0.6" filter="url(#bl2)"/>
<circle cx="269.5" cy="414.3" r="2.2" fill="#c0202e" opacity="0.75" filter="url(#bl2)"/>
<circle cx="273.7" cy="417.2" r="1.4" fill="#c0202e" opacity="0.55" filter="url(#bl2)"/>
<circle cx="278" cy="417.2" r="1.7" fill="#c0202e" opacity="0.6" filter="url(#bl2)"/>
<circle cx="279" cy="401.5" r="1.2" fill="#c0202e" opacity="0.35" filter="url(#bl2)"/>
<circle cx="281.6" cy="408.7" r="1.4" fill="#c0202e" opacity="0.4" filter="url(#bl2)"/>
<circle cx="268.5" cy="417.9" r="1.3" fill="#c0202e" opacity="0.4" filter="url(#bl2)"/>
<circle cx="276.5" cy="412.5" r="1.2" fill="#c0202e" opacity="0.4" filter="url(#bl2)"/>
<circle cx="284.5" cy="413" r="1.2" fill="#c0202e" opacity="0.35" filter="url(#bl2)"/>
<circle cx="265.8" cy="409" r="1.2" fill="#c0202e" opacity="0.35" filter="url(#bl2)"/>
<circle cx="352" cy="404" r="1.0" fill="#5a1010" opacity="0.5" filter="url(#bl2)"/>
<circle cx="366" cy="416" r="1.0" fill="#5a1010" opacity="0.5" filter="url(#bl2)"/>
<circle cx="359" cy="409" r="0.9" fill="#5a1010" opacity="0.5" filter="url(#bl2)"/>
<circle cx="370" cy="404" r="0.9" fill="#5a1010" opacity="0.5" filter="url(#bl2)"/>
<ellipse cx="277.20" cy="454.00" rx="9.60" ry="10.30" fill="url(#blue)" filter="url(#bl)"/>
<ellipse cx="318.50" cy="452.20" rx="8.60" ry="9.20" fill="url(#blue)" filter="url(#bl)"/>
<ellipse cx="361.50" cy="451.80" rx="10.20" ry="10.50" fill="url(#blue)" filter="url(#bl)"/>
<ellipse cx="404.20" cy="453.00" rx="10.80" ry="10.00" fill="url(#blue)" filter="url(#bl)"/>
<ellipse cx="447.50" cy="453.30" rx="9.20" ry="10.20" fill="url(#blue)" filter="url(#bl)" transform="rotate(-40 447.50 453.30)"/>
<ellipse cx="489.50" cy="451.00" rx="7.80" ry="7.20" fill="url(#blue)" filter="url(#bl)" transform="rotate(-30 489.50 451.00)"/>
<ellipse cx="494.80" cy="456.20" rx="6.40" ry="7.00" fill="url(#blue)" filter="url(#bl)" transform="rotate(-40 494.80 456.20)"/>
<ellipse cx="276.50" cy="495.80" rx="13.80" ry="12.20" fill="url(#red1m)" filter="url(#bl)"/>
<g opacity="0.85">
<ellipse cx="278.20" cy="495.20" rx="9.80" ry="10.40" fill="url(#violet)" filter="url(#bl)"/>
</g>
<circle cx="269.8" cy="488.80" r="1.6" fill="#d8407a" opacity="0.5" filter="url(#bl2)"/>
<circle cx="273.1" cy="494.00" r="1.7" fill="#d8407a" opacity="0.5" filter="url(#bl2)"/>
<circle cx="269.5" cy="498.90" r="2.2" fill="#d8407a" opacity="0.6" filter="url(#bl2)"/>
<circle cx="273.7" cy="501.80" r="1.4" fill="#d8407a" opacity="0.5" filter="url(#bl2)"/>
<circle cx="278" cy="501.80" r="1.7" fill="#d8407a" opacity="0.55" filter="url(#bl2)"/>
<circle cx="281.6" cy="493.30" r="1.4" fill="#d8407a" opacity="0.35" filter="url(#bl2)"/>
<circle cx="268.5" cy="502.50" r="1.3" fill="#d8407a" opacity="0.4" filter="url(#bl2)"/>
<circle cx="276.5" cy="497.10" r="1.2" fill="#d8407a" opacity="0.35" filter="url(#bl2)"/>
<circle cx="284.5" cy="497.60" r="1.2" fill="#d8407a" opacity="0.3" filter="url(#bl2)"/>
<circle cx="265.8" cy="493.60" r="1.2" fill="#d8407a" opacity="0.35" filter="url(#bl2)"/>
<ellipse cx="317.70" cy="494.20" rx="8.30" ry="8.80" fill="url(#blue2)" filter="url(#bl)"/>
<ellipse cx="361.50" cy="494.20" rx="12.50" ry="12.50" fill="url(#red3)" filter="url(#bl)"/>
<ellipse cx="361.50" cy="494.20" rx="10.20" ry="10.60" fill="url(#blue)" filter="url(#bl)"/>
<ellipse cx="404.20" cy="495.20" rx="10.80" ry="10.00" fill="url(#blue)" filter="url(#bl)"/>
<ellipse cx="447.50" cy="495.50" rx="9.20" ry="10.20" fill="url(#blue)" filter="url(#bl)" transform="rotate(-40 447.50 495.50)"/>
<ellipse cx="489.50" cy="493.20" rx="7.80" ry="7.20" fill="url(#blue)" filter="url(#bl)" transform="rotate(-30 489.50 493.20)"/>
<ellipse cx="494.80" cy="498.40" rx="6.40" ry="7.00" fill="url(#blue)" filter="url(#bl)" transform="rotate(-40 494.80 498.40)"/>
<line x1="258.00" y1="518.00" x2="258.00" y2="653.00" stroke="#0a0a0a" stroke-width="1.5" />
<line x1="257.30" y1="652.80" x2="510.60" y2="652.80" stroke="#0a0a0a" stroke-width="1.5" />
<line x1="254.80" y1="653.00" x2="258.00" y2="653.00" stroke="#0a0a0a" stroke-width="1.2" />
<text x="251.60" y="655.60" font-size="7.2" fill="#222" text-anchor="end" font-weight="normal" >0</text>
<line x1="254.80" y1="626.70" x2="258.00" y2="626.70" stroke="#0a0a0a" stroke-width="1.2" />
<text x="251.60" y="629.30" font-size="7.2" fill="#222" text-anchor="end" font-weight="normal" >20</text>
<line x1="254.80" y1="600.40" x2="258.00" y2="600.40" stroke="#0a0a0a" stroke-width="1.2" />
<text x="251.60" y="603.00" font-size="7.2" fill="#222" text-anchor="end" font-weight="normal" >40</text>
<line x1="254.80" y1="574.10" x2="258.00" y2="574.10" stroke="#0a0a0a" stroke-width="1.2" />
<text x="251.60" y="576.70" font-size="7.2" fill="#222" text-anchor="end" font-weight="normal" >60</text>
<line x1="254.80" y1="547.80" x2="258.00" y2="547.80" stroke="#0a0a0a" stroke-width="1.2" />
<text x="251.60" y="550.40" font-size="7.2" fill="#222" text-anchor="end" font-weight="normal" >80</text>
<line x1="254.80" y1="521.50" x2="258.00" y2="521.50" stroke="#0a0a0a" stroke-width="1.2" />
<text x="251.60" y="524.10" font-size="7.2" fill="#222" text-anchor="end" font-weight="normal" >100</text>
<line x1="279.20" y1="568.71" x2="279.20" y2="546.35" stroke="#0a0a0a" stroke-width="1.5" />
<line x1="272.30" y1="546.35" x2="286.10" y2="546.35" stroke="#111" stroke-width="1.7" />
<rect x="265.20" y="568.71" width="28.00" height="84.29" fill="#a3092f" />
<line x1="279.20" y1="653.00" x2="279.20" y2="656.50" stroke="#0a0a0a" stroke-width="1.2" />
<text x="279.20" y="666.20" font-size="7.4" fill="#1a1a1a" text-anchor="middle" font-weight="normal" >HSC</text>
<line x1="321.10" y1="626.70" x2="321.10" y2="613.55" stroke="#0a0a0a" stroke-width="1.5" />
<line x1="314.20" y1="613.55" x2="328.00" y2="613.55" stroke="#111" stroke-width="1.7" />
<rect x="307.10" y="626.70" width="28.00" height="26.30" fill="#a3092f" />
<line x1="321.10" y1="653.00" x2="321.10" y2="656.50" stroke="#0a0a0a" stroke-width="1.2" />
<text x="321.10" y="666.20" font-size="7.4" fill="#1a1a1a" text-anchor="middle" font-weight="normal" >MPP</text>
<line x1="363.00" y1="642.74" x2="363.00" y2="639.85" stroke="#0a0a0a" stroke-width="1.5" />
<line x1="356.10" y1="639.85" x2="369.90" y2="639.85" stroke="#111" stroke-width="1.7" />
<rect x="349.00" y="642.74" width="28.00" height="10.26" fill="#a3092f" />
<line x1="363.00" y1="653.00" x2="363.00" y2="656.50" stroke="#0a0a0a" stroke-width="1.2" />
<text x="363.00" y="666.20" font-size="7.4" fill="#1a1a1a" text-anchor="middle" font-weight="normal" >HPC1/2</text>
<line x1="404.90" y1="651.03" x2="404.90" y2="649.84" stroke="#0a0a0a" stroke-width="1.5" />
<line x1="398.00" y1="649.84" x2="411.80" y2="649.84" stroke="#1a0a0e" stroke-width="1.7" />
<rect x="390.90" y="651.03" width="28.00" height="1.97" fill="#a3092f" />
<line x1="404.90" y1="653.00" x2="404.90" y2="656.50" stroke="#0a0a0a" stroke-width="1.2" />
<text x="404.90" y="666.20" font-size="7.4" fill="#1a1a1a" text-anchor="middle" font-weight="normal" >B</text>
<line x1="446.80" y1="651.16" x2="446.80" y2="649.98" stroke="#0a0a0a" stroke-width="1.5" />
<line x1="439.90" y1="649.98" x2="453.70" y2="649.98" stroke="#1a0a0e" stroke-width="1.7" />
<rect x="432.80" y="651.16" width="28.00" height="1.84" fill="#a3092f" />
<line x1="446.80" y1="653.00" x2="446.80" y2="656.50" stroke="#0a0a0a" stroke-width="1.2" />
<text x="446.80" y="666.20" font-size="7.4" fill="#1a1a1a" text-anchor="middle" font-weight="normal" >T</text>
<line x1="488.70" y1="649.84" x2="488.70" y2="648.27" stroke="#0a0a0a" stroke-width="1.5" />
<line x1="481.80" y1="648.27" x2="495.60" y2="648.27" stroke="#1a0a0e" stroke-width="1.7" />
<rect x="474.70" y="649.84" width="28.00" height="3.16" fill="#a3092f" />
<line x1="488.70" y1="653.00" x2="488.70" y2="656.50" stroke="#0a0a0a" stroke-width="1.2" />
<text x="488.70" y="666.20" font-size="7.4" fill="#1a1a1a" text-anchor="middle" font-weight="normal" >My</text>
<text x="279.50" y="540.00" font-size="6" fill="#333" text-anchor="middle" font-weight="normal" >***</text>
<text x="0.00" y="0.00" font-size="9.6" fill="#1a1a1a" text-anchor="middle" font-weight="normal" textLength="66.5" lengthAdjust="spacingAndGlyphs" transform="translate(233.2,586.4) rotate(-90)">Fluorescence ( A.U.)</text>
<rect x="0" y="0" width="520" height="1.5" fill="#000"/>
<rect x="0" y="0" width="1.6" height="688" fill="#000"/>
<rect x="518.8" y="0" width="1.2" height="688" fill="#000"/>
<rect x="0" y="686" width="520" height="2" fill="#000"/>
</svg></body></html>
